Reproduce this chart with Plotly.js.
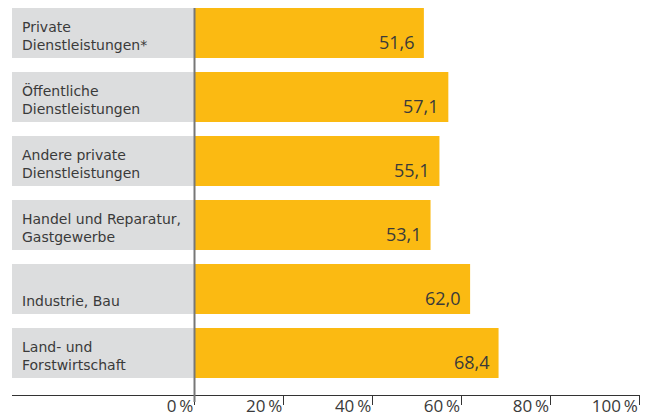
<!DOCTYPE html>
<html><head><meta charset="utf-8">
<script src="https://cdn.plot.ly/plotly-3.0.1.min.js"></script>
<style>html,body{margin:0;padding:0;background:#fff;}#chart{width:648px;height:416px;}</style>
</head><body><div id="chart"></div>
<script>
const categories = ["Private<br>Dienstleistungen*", "Öffentliche<br>Dienstleistungen", "Andere private<br>Dienstleistungen", "Handel und Reparatur,<br>Gastgewerbe", "Industrie, Bau", "Land- und<br>Forstwirtschaft"];
const values = [51.6, 57.1, 55.1, 53.1, 62.0, 68.4];
const tickValues = [0, 20, 40, 60, 80, 100];
const tickLabels = ["0\u2009%", "20\u2009%", "40\u2009%", "60\u2009%", "80\u2009%", "100\u2009%"];

const xMin = -41.06, xMax = 100.22;
const ids = categories.map((c, i) => i);
const txtColor = "#3a3a3a";
const fontFam = "'Open Sans', sans-serif";
const labelFam = "'DejaVu Sans', sans-serif";

const grayTrace = {
  type: "bar", orientation: "h", y: ids, x: ids.map(() => -xMin), base: ids.map(() => xMin),
  marker: {color: "#dcddde"}, width: 0.78, hoverinfo: "skip", showlegend: false
};
const barTrace = {
  type: "bar", orientation: "h", y: ids, x: values,
  marker: {color: "#fbba12"}, width: 0.78, showlegend: false
};

const annotations = [];
categories.forEach((c, i) => {
  annotations.push({xref: "x", yref: "y", x: xMin, y: i, text: c, showarrow: false,
    xanchor: "left", yanchor: "bottom", xshift: 8, yshift: -22, align: "left",
    font: {family: labelFam, size: 14, color: txtColor}});
  annotations.push({xref: "x", yref: "y", x: values[i], y: i, text: values[i].toFixed(1).replace(".", ","),
    showarrow: false, xanchor: "right", yanchor: "bottom", xshift: -7, yshift: -23,
    font: {family: fontFam, size: 18, color: txtColor}});
});

const layout = {
  width: 648, height: 416,
  margin: {l: 12, r: 8, t: 1, b: 21},
  paper_bgcolor: "#fff", plot_bgcolor: "#fff",
  barmode: "overlay",
  xaxis: {range: [xMin, xMax], tickvals: tickValues, ticktext: tickLabels,
    ticks: "outside", ticklen: 9, tickcolor: "#333", tickwidth: 1,
    ticklabelposition: "outside left", ticklabelstandoff: -5,
    showline: true, linecolor: "#333", linewidth: 1.2, showgrid: false, zeroline: false,
    tickfont: {family: fontFam, size: 17, color: txtColor}},
  yaxis: {range: [5.656, -0.5], showticklabels: false, showgrid: false, zeroline: false, ticks: ""},
  shapes: [{type: "line", xref: "x", yref: "paper", x0: 0, x1: 0, y0: -0.018, y1: 0.982,
    line: {color: "#777", width: 2}, layer: "above"}],
  annotations: annotations,
  showlegend: false
};
Plotly.newPlot("chart", [grayTrace, barTrace], layout, {displayModeBar: false, staticPlot: true});
</script></body></html>
